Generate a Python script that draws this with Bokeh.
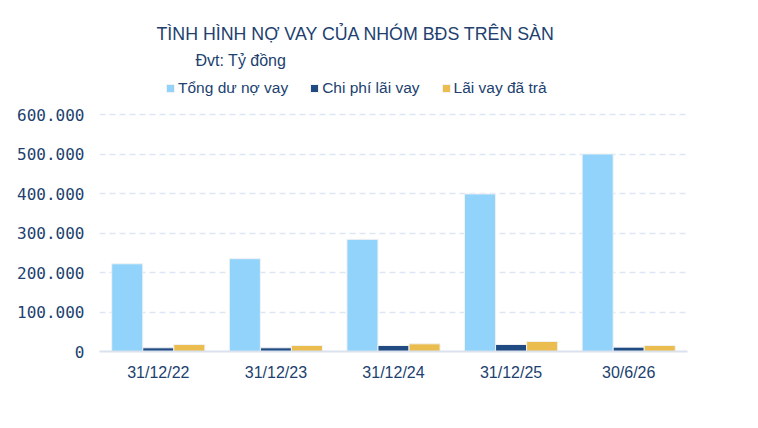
from bokeh.plotting import figure
from bokeh.models import (ColumnDataSource, FactorRange, Range1d, FixedTicker, Label,
                          Legend, LegendItem)
from bokeh.transform import dodge
from bokeh.embed import file_html
from bokeh.resources import INLINE

# ---- data ----
categories = ["31/12/22", "31/12/23", "31/12/24", "31/12/25", "30/6/26"]
tong_du_no = [222000, 235000, 284000, 399000, 500000]
chi_phi_lai = [9300, 9300, 15200, 17800, 11000]
lai_da_tra = [17800, 15200, 19400, 25400, 15200]
series_names = ["Tổng dư nợ vay", "Chi phí lãi vay", "Lãi vay đã trả"]
y_ticks = [0, 100000, 200000, 300000, 400000, 500000, 600000]
y_tick_labels = ["0", "100.000", "200.000", "300.000", "400.000", "500.000", "600.000"]
title_text = "TÌNH HÌNH NỢ VAY CỦA NHÓM BĐS TRÊN SÀN"
subtitle_text = "Đvt: Tỷ đồng"

NAVY = "#213f6f"
colors = ["#91d3fa", "#1f4a82", "#ebbd4f"]

source = ColumnDataSource(data=dict(cat=categories, tong=tong_du_no,
                                    chi=chi_phi_lai, lai=lai_da_tra))

# frame spans the whole height so that the heading texts are not clipped;
# 600.000 sits 237px above 0, the frame top is 351px above 0
y_top = 600000 * 351 / 237
p = figure(width=742, height=412, x_range=FactorRange(*categories),
           y_range=Range1d(0, y_top), output_backend="svg",
           toolbar_location=None,
           min_border_left=99, min_border_right=55,
           min_border_top=0, min_border_bottom=61)
p.outline_line_color = None

w = 0.264
r1 = p.vbar(x=dodge("cat", -w, range=p.x_range), top="tong", width=w, source=source,
            fill_color=colors[0], line_color="#f2f2f2", line_width=1)
r2 = p.vbar(x=dodge("cat", 0, range=p.x_range), top="chi", width=w, source=source,
            fill_color=colors[1], line_color="#f2f2f2", line_width=1)
r3 = p.vbar(x=dodge("cat", w, range=p.x_range), top="lai", width=w, source=source,
            fill_color=colors[2], line_color="#f2f2f2", line_width=1)

# axes
p.yaxis.ticker = FixedTicker(ticks=y_ticks)
p.yaxis.major_label_overrides = {t: l for t, l in zip(y_ticks, y_tick_labels)}
p.yaxis.axis_line_color = None
p.yaxis.major_tick_line_color = None
p.yaxis.minor_tick_line_color = None
p.yaxis.major_tick_out = 0
p.yaxis.major_tick_in = 0
p.yaxis.major_label_text_font = "DejaVu Sans Mono"
p.yaxis.major_label_text_font_size = "16px"
p.yaxis.major_label_text_color = NAVY
p.yaxis.major_label_standoff = 15

p.xaxis.axis_line_color = "#dae2ee"
p.xaxis.axis_line_width = 2
p.xaxis.major_tick_line_color = None
p.xaxis.minor_tick_line_color = None
p.xaxis.major_tick_out = 0
p.xaxis.major_tick_in = 0
p.xaxis.major_label_text_font = "Liberation Sans"
p.xaxis.major_label_text_font_size = "16px"
p.xaxis.major_label_text_color = NAVY
p.xaxis.major_label_standoff = 12

p.xgrid.grid_line_color = None
p.ygrid.grid_line_color = "#dde6f4"
p.ygrid.grid_line_width = 1.5
p.ygrid.grid_line_dash = "6 4"

# title and subtitle
p.add_layout(Label(x=57, y=318, x_units="screen", y_units="screen", text=title_text,
                   text_font="Liberation Sans", text_font_size="17.8px",
                   text_color=NAVY, text_baseline="middle"))
p.add_layout(Label(x=96, y=291, x_units="screen", y_units="screen", text=subtitle_text,
                   text_font="Liberation Sans", text_font_size="16px",
                   text_color=NAVY, text_baseline="middle"))

legend = Legend(items=[LegendItem(label=series_names[0], renderers=[r1]),
                       LegendItem(label=series_names[1], renderers=[r2]),
                       LegendItem(label=series_names[2], renderers=[r3])],
                location=(66, 253), orientation="horizontal",
                padding=0, margin=0, spacing=21, label_standoff=3,
                glyph_width=10, glyph_height=10, label_height=20,
                border_line_color=None, background_fill_alpha=0,
                label_text_font="Liberation Sans", label_text_font_size="15.5px",
                label_text_color=NAVY)
p.add_layout(legend, "center")

open("out.html", "w").write(file_html(p, INLINE))
